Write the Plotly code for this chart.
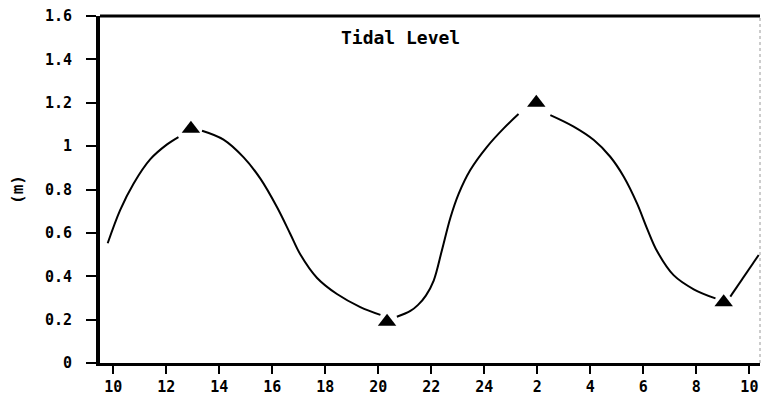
import plotly.graph_objects as go

# Tidal level trace (hours counted from 0:00 of the first day, level in metres).
# None breaks the pen line where it stops short of each high/low water mark.
hours = [9.79, 10.26, 10.77, 11.40, 12.03, 12.46, None,
         13.35, 14.16, 14.92, 15.55, 16.18, 16.68, 17.06, 17.69, 18.44, 19.32, 20.08, None,
         20.70, 21.21, 21.50, 21.80, 22.09, 22.40, 22.72, 23.03, 23.47, 24.10, 24.73, 25.29, None,
         26.49, 27.37, 28.13, 28.75, 29.26, 29.76, 30.14, 30.52, 31.14, 31.90, 32.72, None,
         33.28, 34.35]
level = [0.552, 0.705, 0.828, 0.940, 1.008, 1.042, None,
         1.071, 1.030, 0.948, 0.850, 0.718, 0.595, 0.500, 0.392, 0.318, 0.258, 0.222, None,
         0.213, 0.240, 0.268, 0.312, 0.380, 0.520, 0.670, 0.780, 0.890, 0.997, 1.082, 1.148, None,
         1.143, 1.090, 1.028, 0.951, 0.859, 0.736, 0.620, 0.515, 0.405, 0.340, 0.298, None,
         0.306, 0.498]

# High / low water marks
extreme_hours = [12.93, 20.33, 25.96, 33.03]
extreme_level = [1.08, 0.19, 1.20, 0.28]

# Axis ticks (clock hours wrap past midnight)
x_tickvals = [10, 12, 14, 16, 18, 20, 22, 24, 26, 28, 30, 32, 34]
x_ticktext = ["10", "12", "14", "16", "18", "20", "22", "24", "2", "4", "6", "8", "10"]
y_tickvals = [0, 0.2, 0.4, 0.6, 0.8, 1.0, 1.2, 1.4, 1.6]
y_ticktext = ["0", "0.2", "0.4", "0.6", "0.8", "1", "1.2", "1.4", "1.6"]

FONT = "DejaVu Sans Mono"

fig = go.Figure()
fig.add_trace(go.Scatter(
    x=hours, y=level, mode="lines", connectgaps=False,
    line=dict(color="black", width=2, shape="spline", smoothing=1.0),
    hoverinfo="skip", showlegend=False,
))
fig.add_trace(go.Scatter(
    x=extreme_hours, y=extreme_level, mode="markers",
    marker=dict(symbol="triangle-up", size=16, color="black"),
    showlegend=False,
))

fig.update_layout(
    width=761, height=400,
    margin=dict(l=100, r=1, t=16, b=37),
    paper_bgcolor="white", plot_bgcolor="white",
    xaxis=dict(
        range=[9.5, 34.4], tickvals=x_tickvals, ticktext=x_ticktext,
        showgrid=False, zeroline=False,
        showline=True, linecolor="black", linewidth=3,
        ticks="outside", ticklen=8, tickwidth=2, tickcolor="black",
        tickfont=dict(family=FONT, size=15, color="black", weight="bold"),
    ),
    yaxis=dict(
        range=[0, 1.6], tickvals=y_tickvals, ticktext=y_ticktext,
        showgrid=False, zeroline=False,
        showline=True, linecolor="black", linewidth=4,
        ticks="outside", ticklen=10, tickwidth=2, tickcolor="black",
        ticklabelstandoff=11,
        tickfont=dict(family=FONT, size=15, color="black", weight="bold"),
        title=dict(text="(m)", standoff=18,
                   font=dict(family=FONT, size=16, color="black", weight="bold")),
    ),
    annotations=[dict(
        x=0.455, y=0.938, xref="paper", yref="paper", yanchor="middle",
        text="Tidal Level", showarrow=False,
        font=dict(family=FONT, size=18, color="black", weight="bold"),
    )],
    shapes=[
        # heavy top frame edge
        dict(type="line", xref="paper", yref="paper", x0=0, x1=1, y0=1, y1=1,
             line=dict(color="black", width=3)),
        # faint right frame edge
        dict(type="line", xref="paper", yref="paper", x0=1, x1=1, y0=0, y1=1,
             line=dict(color="#999999", width=1, dash="dot")),
    ],
)

fig.write_html("out.html")
